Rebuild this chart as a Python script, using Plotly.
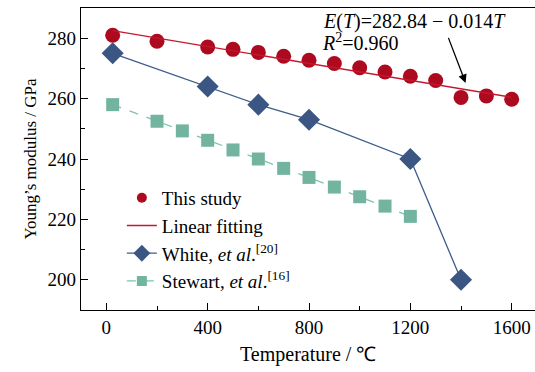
import plotly.graph_objects as go

# Data
study_T = [25, 200, 400, 500, 600, 700, 800, 900, 1000, 1100, 1200, 1300, 1400, 1500, 1600]
study_E = [281.0, 279.0, 277.1, 276.3, 275.3, 274.0, 272.7, 271.6, 270.2, 268.8, 267.4, 266.0, 260.4, 260.9, 259.8]

fit_T = [25, 1600]
fit_intercept = 282.84
fit_slope = -0.014
fit_E = [fit_intercept + fit_slope * t for t in fit_T]

white_T = [25, 400, 600, 800, 1200, 1400]
white_E = [275.0, 264.0, 258.0, 253.0, 240.0, 200.0]

stewart_T = [25, 200, 300, 400, 500, 600, 700, 800, 900, 1000, 1100, 1200]
stewart_E = [258.0, 252.5, 249.3, 246.2, 243.0, 240.0, 236.9, 233.9, 230.7, 227.5, 224.4, 221.0]

names = ["This study", "Linear fitting",
         "White, <i>et al</i>.<sup>[20]</sup>",
         "Stewart, <i>et al</i>.<sup>[16]</sup>"]

FONT = "Liberation Serif"
RED, RED_LINE = "#AE0A1F", "#C4172F"
BLUE, BLUE_LINE = "#3B5683", "#3D5C8C"
GREEN, GREEN_LINE = "#72B4A0", "#7CC4AC"

fig = go.Figure()
# data traces (legend handled by proxy entries with smaller symbols)
fig.add_trace(go.Scatter(x=study_T, y=study_E, mode="markers", showlegend=False,
                         marker=dict(symbol="circle", size=15, color=RED)))
fig.add_trace(go.Scatter(x=fit_T, y=fit_E, mode="lines", showlegend=False,
                         line=dict(color=RED_LINE, width=1.3)))
fig.add_trace(go.Scatter(x=white_T, y=white_E, mode="lines+markers", showlegend=False,
                         line=dict(color=BLUE_LINE, width=1.3),
                         marker=dict(symbol="diamond", size=17, color=BLUE)))
fig.add_trace(go.Scatter(x=stewart_T, y=stewart_E, mode="lines+markers", showlegend=False,
                         line=dict(color=GREEN_LINE, width=1.3, dash="dash"),
                         marker=dict(symbol="square", size=13, color=GREEN)))

# legend proxies
fig.add_trace(go.Scatter(x=[None], y=[None], mode="markers", name=names[0], legendgroup="a",
                         marker=dict(symbol="circle", size=10, color=RED)))
fig.add_trace(go.Scatter(x=[None], y=[None], mode="lines", name=names[1], legendgroup="b",
                         line=dict(color=RED_LINE, width=1.3)))
fig.add_trace(go.Scatter(x=[None], y=[None], mode="lines+markers", name=names[2], legendgroup="c",
                         line=dict(color=BLUE_LINE, width=1.3),
                         marker=dict(symbol="diamond", size=13, color=BLUE)))
fig.add_trace(go.Scatter(x=[None], y=[None], mode="lines+markers", name=names[3], legendgroup="d",
                         line=dict(color=GREEN_LINE, width=1.3, dash="dash"),
                         marker=dict(symbol="square", size=10, color=GREEN)))

fig.add_annotation(x=1418, y=265.2, ax=1348, ay=280.6, xref="x", yref="y",
                   axref="x", ayref="y", text="", showarrow=True,
                   arrowhead=2, arrowsize=1.3, arrowwidth=1.3, arrowcolor="black")
fig.add_annotation(x=0.735, y=285.4, xref="paper", yref="y", xanchor="center", yanchor="middle",
                   text="<i>E</i>(<i>T</i>)=282.84 − 0.014<i>T</i>", showarrow=False,
                   font=dict(family=FONT, size=20, color="black"))
fig.add_annotation(x=0.616, y=278.6, xref="paper", yref="y", xanchor="center", yanchor="middle",
                   text="<i>R</i><sup>2</sup>=0.960", showarrow=False,
                   font=dict(family=FONT, size=20, color="black"))
fig.add_annotation(x=0.5, y=-0.147, xref="paper", yref="paper", xanchor="center", yanchor="middle",
                   text="Temperature / ℃", showarrow=False,
                   font=dict(family=FONT, size=20, color="black"))

fig.update_layout(
    width=535, height=372,
    margin=dict(l=81, r=0, t=8, b=62),
    paper_bgcolor="white", plot_bgcolor="white",
    font=dict(family=FONT, size=18, color="black"),
    showlegend=True,
    legend=dict(x=0.09, y=0.434, xanchor="left", yanchor="top",
                bgcolor="rgba(0,0,0,0)", font=dict(family=FONT, size=19),
                traceorder="grouped", tracegroupgap=0),
    xaxis=dict(range=[-100, 1692], tickvals=[0, 400, 800, 1200, 1600],
               ticks="inside", ticklen=7, tickwidth=1, tickcolor="black",
               minor=dict(tickvals=[200, 600, 1000, 1400], ticks="inside", ticklen=4,
                          tickcolor="black"),
               showline=True, linecolor="black", linewidth=1.2, mirror=True,
               showgrid=False, zeroline=False, automargin=False,
               tickfont=dict(family=FONT, size=19)),
    yaxis=dict(range=[190, 290], tickvals=[200, 220, 240, 260, 280],
               ticks="inside", ticklen=7, tickwidth=1, tickcolor="black",
               minor=dict(tickvals=[210, 230, 250, 270], ticks="inside", ticklen=4,
                          tickcolor="black"),
               showline=True, linecolor="black", linewidth=1.2,
               showgrid=False, zeroline=False, automargin=False,
               title=dict(text="Young’s modulus / GPa", font=dict(family=FONT, size=17), standoff=6),
               tickfont=dict(family=FONT, size=19)),
)

fig.write_html("out.html")
